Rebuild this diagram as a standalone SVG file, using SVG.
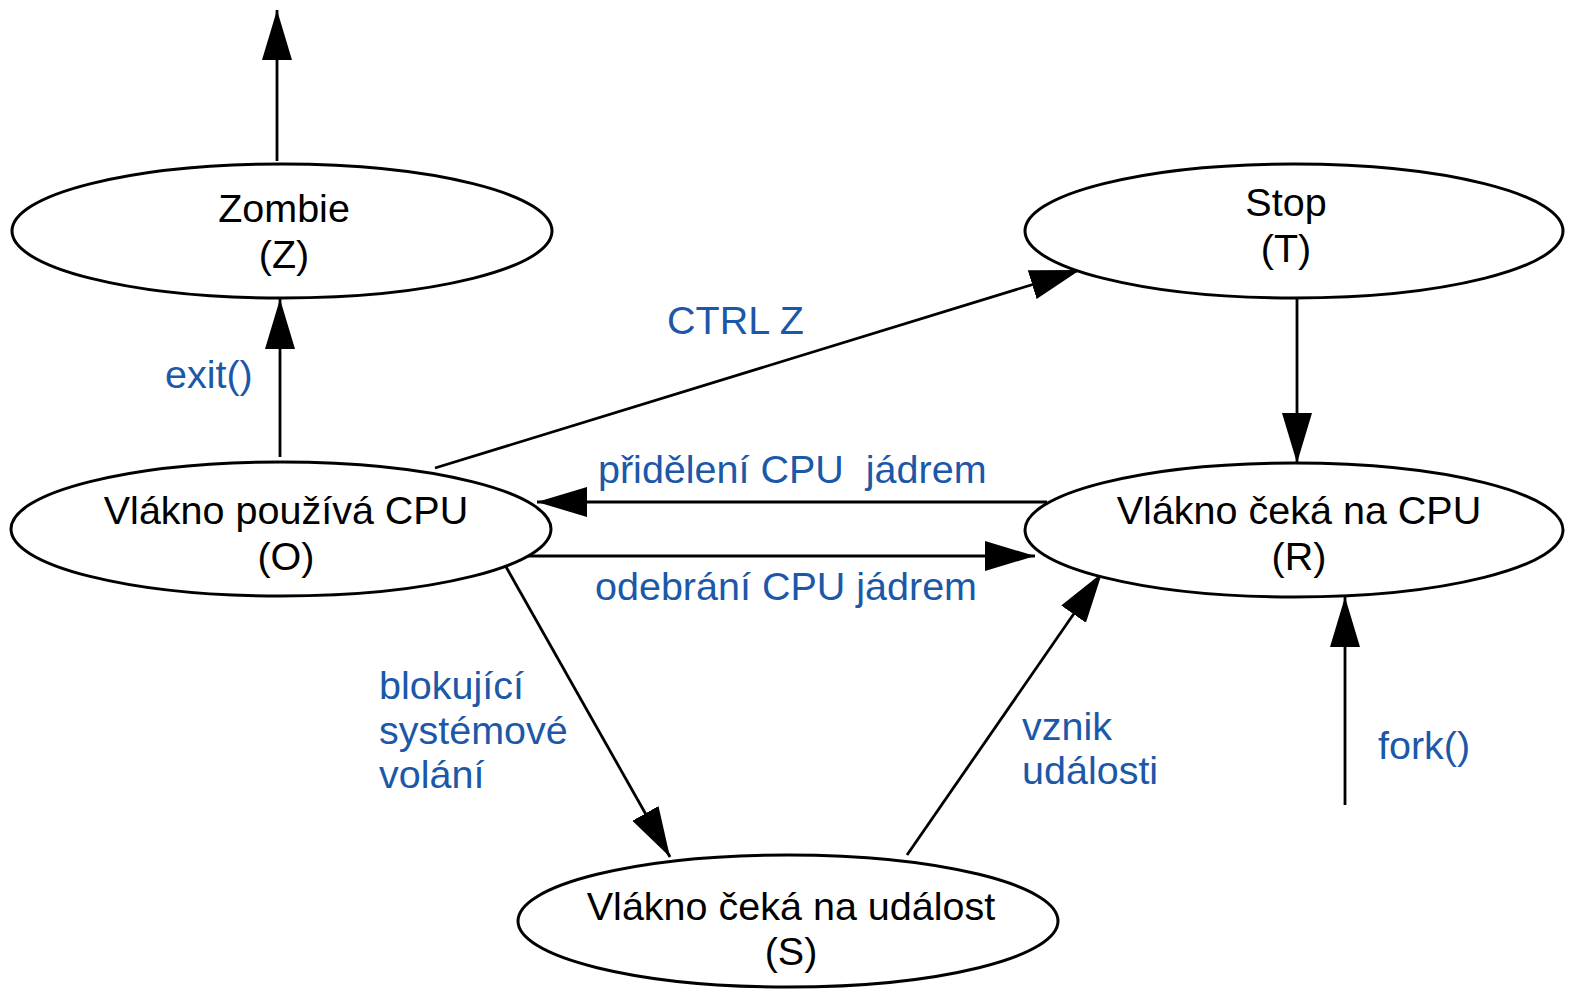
<svg xmlns="http://www.w3.org/2000/svg" width="1585" height="997" viewBox="0 0 1585 997">
<style>
.node ellipse{fill:#fff;stroke:#000;stroke-width:3}
.nt{font-family:"Liberation Sans",Arial,sans-serif;font-size:39.5px;fill:#000;text-anchor:middle}
.lbl{font-family:"Liberation Sans",Arial,sans-serif;font-size:39.5px;fill:#1c58a8;white-space:pre}
.edges line{stroke:#000;stroke-width:2.8;fill:none}
</style>
<defs>
<marker id="ah" markerUnits="userSpaceOnUse" markerWidth="52" markerHeight="32" refX="50" refY="15" orient="auto">
<path d="M0,0 L50,15 L0,30 Z" fill="#000"/>
</marker>
</defs>
<rect width="1585" height="997" fill="#fff"/>
<g class="edges">
<line x1="277" y1="161" x2="277" y2="10" marker-end="url(#ah)"/>
<line x1="280" y1="457" x2="280" y2="299" marker-end="url(#ah)"/>
<line x1="435" y1="468" x2="1080" y2="270" marker-end="url(#ah)"/>
<line x1="1297" y1="298" x2="1297" y2="463" marker-end="url(#ah)"/>
<line x1="1047" y1="502" x2="537" y2="502" marker-end="url(#ah)"/>
<line x1="513" y1="556" x2="1035" y2="556" marker-end="url(#ah)"/>
<line x1="505" y1="565" x2="670" y2="857" marker-end="url(#ah)"/>
<line x1="907" y1="855" x2="1102" y2="573" marker-end="url(#ah)"/>
<line x1="1345" y1="805" x2="1345" y2="597" marker-end="url(#ah)"/>
</g>
<g id="zombie" class="node">
<ellipse cx="282" cy="231" rx="270" ry="67"/>
<text class="nt" x="284" y="222">Zombie</text>
<text class="nt" x="284" y="268">(Z)</text>
</g>
<g id="stop" class="node">
<ellipse cx="1294" cy="231" rx="269" ry="67"/>
<text class="nt" x="1286" y="216">Stop</text>
<text class="nt" x="1286" y="262">(T)</text>
</g>
<g id="running" class="node">
<ellipse cx="281" cy="529" rx="270" ry="67"/>
<text class="nt" x="286" y="524">Vlákno používá CPU</text>
<text class="nt" x="286" y="570">(O)</text>
</g>
<g id="ready" class="node">
<ellipse cx="1294" cy="530" rx="269" ry="67"/>
<text class="nt" x="1299" y="524">Vlákno čeká na CPU</text>
<text class="nt" x="1299" y="570">(R)</text>
</g>
<g id="sleeping" class="node">
<ellipse cx="788" cy="921" rx="270" ry="66"/>
<text class="nt" x="791" y="920">Vlákno čeká na událost</text>
<text class="nt" x="791" y="965">(S)</text>
</g>
<g id="labels">
<text class="lbl" x="165" y="388">exit()</text>
<text class="lbl" x="667" y="334">CTRL Z</text>
<text class="lbl" x="598" y="483" xml:space="preserve">přidělení CPU  jádrem</text>
<text class="lbl" x="595" y="600">odebrání CPU jádrem</text>
<text class="lbl" x="379" y="699">blokující</text>
<text class="lbl" x="379" y="744">systémové</text>
<text class="lbl" x="379" y="788">volání</text>
<text class="lbl" x="1022" y="740">vznik</text>
<text class="lbl" x="1022" y="784">události</text>
<text class="lbl" x="1378" y="759">fork()</text>
</g>
</svg>
